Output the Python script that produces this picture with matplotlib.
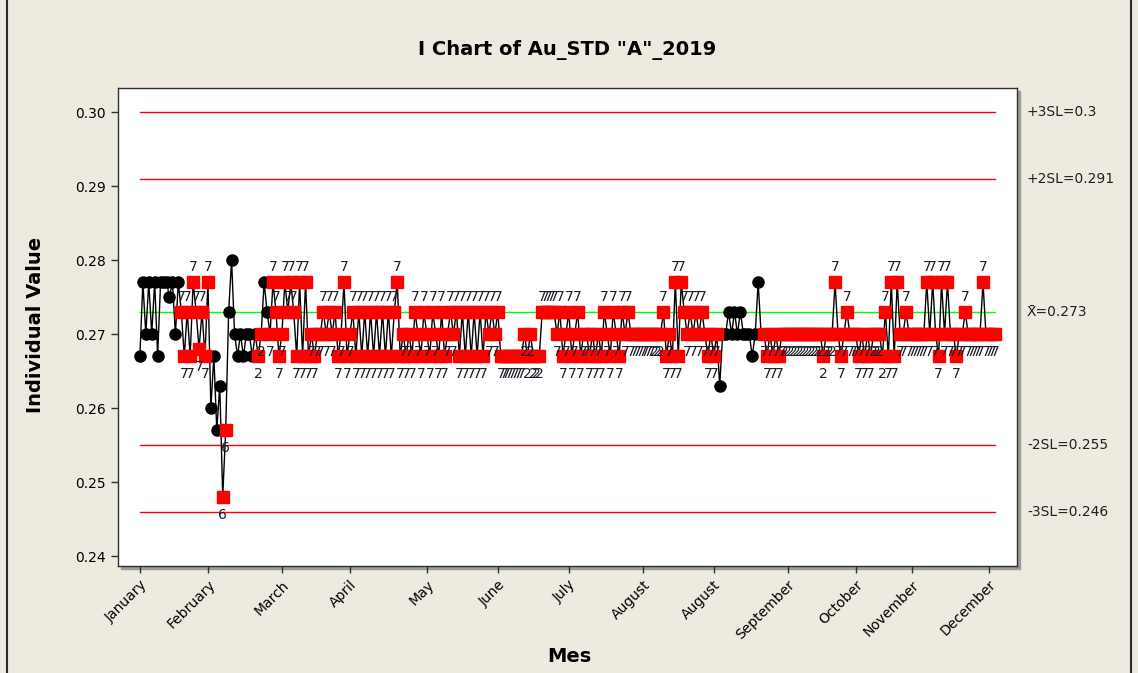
import numpy as np
import matplotlib.pyplot as plt
import matplotlib.transforms as mtransforms
from matplotlib.patches import Rectangle
from matplotlib.lines import Line2D

# Au_STD "A" readings for 2019, grouped by the month stamp used on the x axis
jan = [0.267, 0.277, 0.270, 0.277, 0.270, 0.277, 0.267, 0.277, 0.277, 0.277,
       0.275, 0.277, 0.270, 0.277, 0.273, 0.267, 0.273, 0.267, 0.277, 0.273,
       0.268, 0.273, 0.267]
feb = [0.277, 0.260, 0.267, 0.257, 0.263, 0.248, 0.257, 0.273, 0.280, 0.270,
       0.267, 0.270, 0.267, 0.270, 0.270, 0.267, 0.270, 0.267, 0.270, 0.277,
       0.273, 0.270, 0.277, 0.273, 0.267]
mar = [0.270, 0.277, 0.273, 0.277, 0.273, 0.267, 0.277, 0.267, 0.277, 0.267,
       0.270, 0.267, 0.270, 0.270, 0.273, 0.270, 0.273, 0.270, 0.273, 0.267,
       0.270, 0.277, 0.267]
apr = [0.270, 0.273, 0.267, 0.273, 0.267, 0.273, 0.267, 0.273, 0.267, 0.273,
       0.267, 0.273, 0.267, 0.273, 0.267, 0.273, 0.277, 0.267, 0.270, 0.267,
       0.270, 0.267, 0.273, 0.270, 0.267, 0.273]
may = [0.270, 0.267, 0.273, 0.270, 0.267, 0.273, 0.267, 0.270, 0.273, 0.270,
       0.273, 0.267, 0.273, 0.267, 0.273, 0.267, 0.273, 0.267, 0.273, 0.267,
       0.273, 0.270, 0.273, 0.270]
jun = [0.273, 0.267, 0.267, 0.267, 0.267, 0.267, 0.267, 0.267, 0.267, 0.270,
       0.267, 0.270, 0.267, 0.267, 0.267, 0.273, 0.273, 0.273, 0.273, 0.273,
       0.270, 0.273, 0.267, 0.270]
jul = [0.273, 0.267, 0.270, 0.273, 0.267, 0.270, 0.270, 0.267, 0.270, 0.267,
       0.270, 0.267, 0.273, 0.270, 0.267, 0.273, 0.270, 0.267, 0.273, 0.270,
       0.273, 0.270, 0.270, 0.270, 0.270]
aug_a = [0.270, 0.270, 0.270, 0.270, 0.270, 0.270, 0.270, 0.273, 0.267, 0.270,
         0.267, 0.277, 0.267, 0.277, 0.273, 0.270, 0.273, 0.270, 0.273, 0.270,
         0.273, 0.270, 0.267, 0.270]
aug_b = [0.267, 0.270, 0.263, 0.270, 0.270, 0.273, 0.270, 0.273, 0.270, 0.273,
         0.270, 0.270, 0.270, 0.267, 0.270, 0.277, 0.270, 0.270, 0.267, 0.270,
         0.267, 0.270, 0.267, 0.270, 0.270]
sep = [0.270, 0.270, 0.270, 0.270, 0.270, 0.270, 0.270, 0.270, 0.270, 0.270,
       0.270, 0.270, 0.267, 0.270, 0.270, 0.270, 0.277, 0.270, 0.267, 0.270,
       0.273, 0.270, 0.270]
oct_ = [0.270, 0.267, 0.270, 0.267, 0.270, 0.267, 0.270, 0.270, 0.270, 0.267,
        0.273, 0.267, 0.277, 0.267, 0.277, 0.270, 0.270, 0.273, 0.270]
nov = [0.270, 0.270, 0.270, 0.270, 0.270, 0.277, 0.270, 0.277, 0.270, 0.267,
       0.277, 0.270, 0.277, 0.270, 0.270, 0.267, 0.270, 0.270, 0.273, 0.270,
       0.270, 0.270, 0.270, 0.270, 0.277, 0.270]
dec = [0.270, 0.270, 0.270]

month_values = [jan, feb, mar, apr, may, jun, jul, aug_a, aug_b, sep, oct_, nov, dec]
month_names = ["January", "February", "March", "April", "May", "June", "July",
               "August", "August", "September", "October", "November", "December"]

center = 0.273
sigma = 0.009
limit_values = [0.300, 0.291, 0.255, 0.246]
limit_labels = ["+3SL=0.3", "+2SL=0.291", "-2SL=0.255", "-3SL=0.246"]
center_label = "X\u0304=0.273"

values = np.array([v for m in month_values for v in m])
n = len(values)
x = np.arange(n)
starts = np.cumsum([0] + [len(m) for m in month_values[:-1]])

# special-cause tests 1, 2, 6 and 7
dev = values - center
side = np.where(dev >= 0, 1, -1)
within = np.abs(dev) < sigma
up = dev > sigma
down = dev < -sigma
fails = [[] for _ in range(n)]
for i in range(n):
    if abs(dev[i]) > 3 * sigma:
        fails[i].append(1)
    if i >= 8 and abs(side[i - 8:i + 1].sum()) == 9:
        fails[i].append(2)
    if i >= 4:
        if (up[i] and up[i - 4:i + 1].sum() >= 4) or (down[i] and down[i - 4:i + 1].sum() >= 4):
            fails[i].append(6)
    if i >= 14 and within[i - 14:i + 1].all():
        fails[i].append(7)
flagged = np.array([len(f) > 0 for f in fails])

bg = "#EEEAE0"
fig = plt.figure(figsize=(11.38, 6.73), dpi=100, facecolor=bg)
ax = fig.add_axes([118 / 1138, 107 / 673, 899 / 1138, 478 / 673])
ax.set_facecolor("white")

# drop shadow behind the plot area
fig.add_artist(Rectangle((121 / 1138, 104 / 673), 899 / 1138, 478 / 673,
                         transform=fig.transFigure, color="#9c9c9c", zorder=-1))
for xf in (7 / 1138, 1131 / 1138):
    fig.add_artist(Line2D([xf, xf], [0, 1], transform=fig.transFigure,
                          color="#2a2a2a", lw=1.5))

for lim in limit_values:
    ax.plot([0, n - 1], [lim, lim], color="red", lw=1, zorder=2)
ax.plot([0, n - 1], [center, center], color="#00FF00", lw=1, zorder=2)

ax.plot(x, values, color="black", lw=1.0, zorder=3)
ax.plot(x[~flagged], values[~flagged], "o", color="black", ms=8, zorder=4)
ax.plot(x[flagged], values[flagged], "s", color="red", mec="red", ms=8.5, zorder=5)

for i in np.where(flagged)[0]:
    dy = 11 if side[i] > 0 else -13
    ax.annotate(str(min(fails[i])), (x[i], values[i]), xytext=(0, dy),
                textcoords="offset points", ha="center", va="center",
                fontsize=10, color="#1e1e28", zorder=6)

trans = mtransforms.blended_transform_factory(ax.transAxes, ax.transData)
for lim, lab in zip(limit_values + [center], limit_labels + [center_label]):
    ax.text(1.011, lim, lab, transform=trans, ha="left", va="center",
            fontsize=10, color="#202020")

ax.set_xlim(-7.4, 296.5)
ax.set_ylim(0.23865, 0.30325)
ax.set_yticks(np.arange(0.24, 0.3001, 0.01))
ax.set_yticklabels([f"{t:.2f}" for t in np.arange(0.24, 0.3001, 0.01)], fontsize=10)
ax.set_xticks(starts)
ax.set_xticklabels(month_names, rotation=45, ha="right", rotation_mode="anchor", fontsize=10)
ax.tick_params(direction="out", length=5, width=1, color="#303030")
for sp in ax.spines.values():
    sp.set_color("#303030")
    sp.set_linewidth(1)

fig.text(0.498, 0.926, 'I Chart of Au_STD "A"_2019', ha="center", va="center",
         fontsize=14, fontweight="bold")
fig.text(0.031, 0.517, "Individual Value", rotation=90, ha="center", va="center",
         fontsize=14, fontweight="bold")
fig.text(0.5, 0.024, "Mes", ha="center", va="center", fontsize=14, fontweight="bold")

fig.savefig("out.png", dpi=100, facecolor=bg)
